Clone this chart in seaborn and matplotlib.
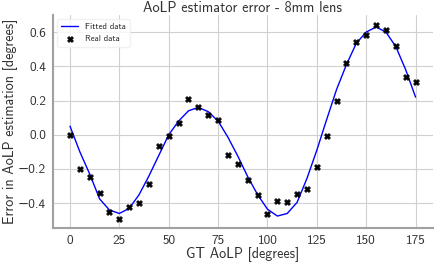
import numpy as np
import pandas as pd
import matplotlib
matplotlib.use("Agg")
import matplotlib.pyplot as plt
import seaborn as sns

# GT angle steps
gt_aolp = list(range(0, 180, 5))

real_err = [0.00, -0.20, -0.245, -0.34, -0.45, -0.49, -0.425, -0.40, -0.29, -0.065,
            -0.005, 0.07, 0.21, 0.165, 0.115, 0.085, -0.12, -0.17, -0.265, -0.35,
            -0.465, -0.39, -0.395, -0.345, -0.315, -0.19, -0.01, 0.20, 0.42, 0.545,
            0.585, 0.64, 0.61, 0.52, 0.335, 0.31]

# fitted curve at the same angles
fit_err = [0.05, -0.10, -0.23, -0.375, -0.44, -0.46, -0.43, -0.35, -0.24, -0.12,
           0.00, 0.08, 0.14, 0.16, 0.135, 0.08, -0.015, -0.125, -0.245, -0.35,
           -0.435, -0.475, -0.46, -0.395, -0.255, -0.09, 0.09, 0.265, 0.41, 0.535,
           0.60, 0.63, 0.60, 0.515, 0.38, 0.22]

df = pd.DataFrame({"gt": gt_aolp, "real": real_err, "fit": fit_err})

sns.set_style("whitegrid", {"grid.color": "#d0d0d0", "axes.edgecolor": "#a0a0a0"})
plt.rcParams["font.family"] = ["cmss10", "DejaVu Sans"]
plt.rcParams["axes.unicode_minus"] = False
plt.rcParams["mathtext.fontset"] = "cm"

fig, ax = plt.subplots(figsize=(4.36, 2.63), dpi=100)
sns.lineplot(data=df, x="gt", y="fit", color="blue", lw=1, label="Fitted data", ax=ax)
sns.scatterplot(data=df, x="gt", y="real", color="black", marker="X", s=18,
                edgecolor="black", linewidth=0.5, label="Real data", ax=ax, zorder=3)

ax.set_title("AoLP estimator error - 8mm lens", fontsize=10.3, color="#333333", pad=2)
ax.set_xlabel("GT AoLP [degrees]", fontsize=10.2, color="#333333", labelpad=0)
ax.set_ylabel("Error in AoLP estimation [degrees]", fontsize=10.2, color="#333333", labelpad=0)
ax.set_xticks([0, 25, 50, 75, 100, 125, 150, 175])
ax.set_yticks([-0.4, -0.2, 0.0, 0.2, 0.4, 0.6])
ax.set_yticklabels([u"\u22120.4", u"\u22120.2", "0.0", "0.2", "0.4", "0.6"])
ax.tick_params(labelsize=9.6, colors="#333333", pad=1.5)
ax.set_xlim(-8.6, 183.8)
ax.set_ylim(-0.545, 0.70)
for s in ["left", "bottom"]:
    ax.spines[s].set_linewidth(1.5)
sns.despine(ax=ax)
ax.legend(loc="upper left", fontsize=6.3, frameon=True, framealpha=0.8, edgecolor="#eeeeee")

fig.subplots_adjust(left=0.1216, right=0.993, top=0.943, bottom=0.133)
fig.savefig("out.png", dpi=100)
